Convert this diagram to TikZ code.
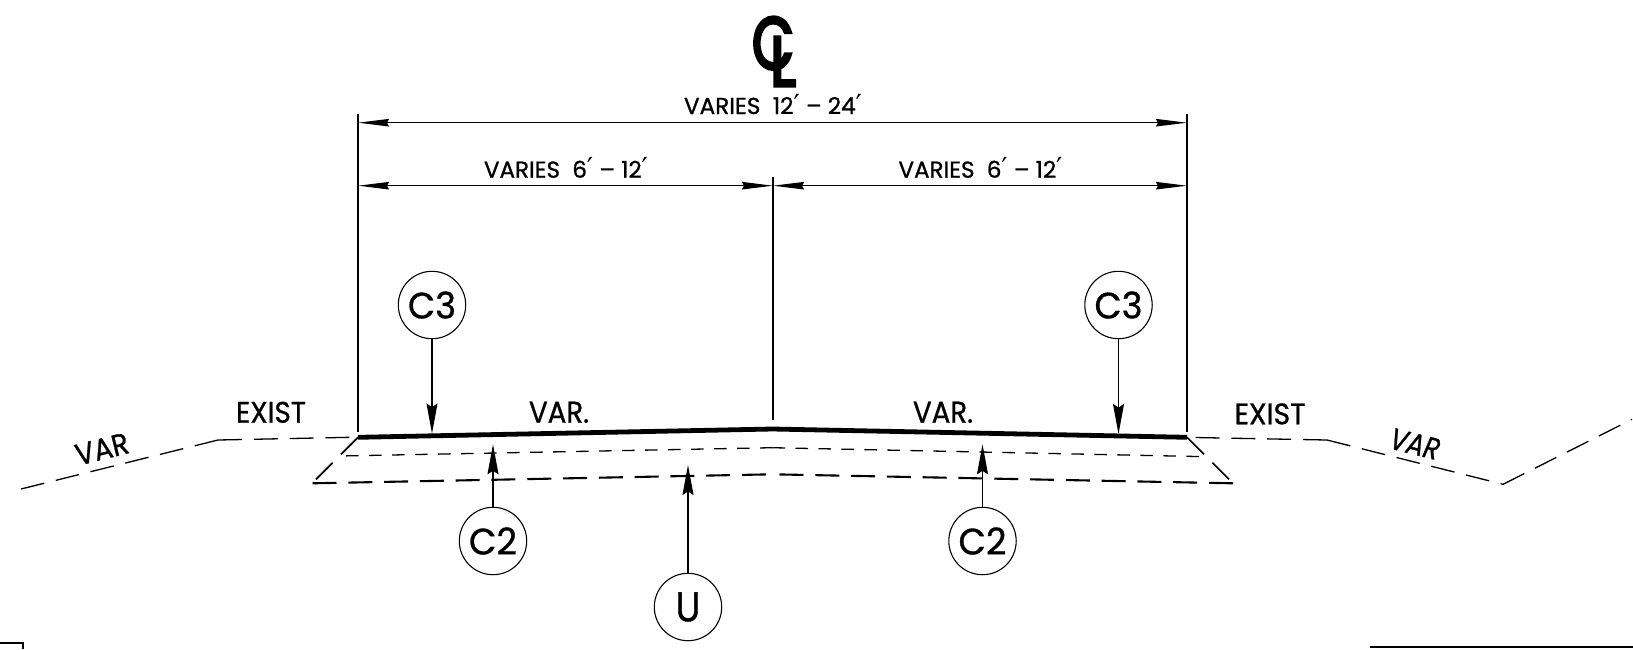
\documentclass[tikz,border=0pt]{standalone}
\usepackage{fontspec}
\usepackage{graphicx}
\setmainfont[FakeBold=0.9]{Poppins}
\newfontfamily\clfont[FakeBold=4.5]{Poppins}
\newfontfamily\primefont{DejaVu Sans}
\newcommand{\prm}{\smash{\primefont\large ′}}
\usetikzlibrary{arrows.meta}
\newcommand{\fitlbl}[3]{\resizebox{#1pt}{#2pt}{#3}}
\tikzset{
  lbl/.style={inner sep=0pt,outer sep=0pt,anchor=base},
  callout/.style={circle,draw,line width=1.1pt,minimum size=67.4pt,inner sep=0pt,outer sep=0pt},
  thinline/.style={line width=1.3pt},
  leader/.style={line width=1.3pt,-{Stealth[length=30pt,width=11pt,inset=3.5pt]}},
  dimline/.style={line width=1.3pt,{Stealth[length=31pt,width=7.5pt,inset=2pt]}-{Stealth[length=31pt,width=7.5pt,inset=2pt]}},
  pave/.style={line width=4.8pt,line join=round},
  groundline/.style={line width=1.3pt,dash pattern=on 24pt off 11.8pt},
  uppercourse/.style={line width=1.3pt,dash pattern=on 12.5pt off 10.5pt},
  lowercourse/.style={line width=2.1pt,dash pattern=on 24pt off 11.8pt},
  sideslope/.style={line width=1.7pt,dash pattern=on 24pt off 12pt}
}
\begin{document}
\begin{tikzpicture}[x=1pt,y=-1pt]
\useasboundingbox (0,0) rectangle (1633,649);
% key points
\coordinate (extLtop) at (358,114);
\coordinate (extLbot) at (358,432);
\coordinate (extRtop) at (1187,114);
\coordinate (extRbot) at (1187,432);
\coordinate (extCtop) at (773,177);
\coordinate (extCbot) at (773,420);
\coordinate (dimAL) at (358,122.7);
\coordinate (dimAR) at (1187,122.7);
\coordinate (dimBL) at (358,185.7);
\coordinate (dimBC) at (773,185.7);
\coordinate (dimBR) at (1187,185.7);
\coordinate (paveL) at (358,437.3);
\coordinate (paveC) at (772.5,429);
\coordinate (paveR) at (1187,437.3);
% extension lines
\draw[thinline] (extLtop) -- (extLbot);
\draw[thinline] (extRtop) -- (extRbot);
\draw[thinline] (extCtop) -- (extCbot);
% dimensions
\draw[dimline] (dimAL) -- (dimAR);
\draw[dimline] (dimBL) -- (dimBC);
\draw[dimline] (dimBC) -- (dimBR);
% surface
\draw[pave] (paveL) -- (paveC) -- (paveR);
% ground
\coordinate (gl0) at (21,489);
\coordinate (gl1) at (218,440);
\coordinate (gl2) at (350,437.3);
\coordinate (gr0) at (1195,437.5);
\coordinate (gr1) at (1327,440);
\coordinate (gr2) at (1503,484.3);
\coordinate (gr3) at (1632,419.3);
\draw[groundline] (gl1) -- (gl0);
\draw[groundline] (gl1) -- (gl2);
\draw[groundline] (gr1) -- (gr0);
\draw[groundline] (gr1) -- (gr2);
\draw[groundline] (gr2) -- (gr3);
% courses
\coordinate (ucL) at (339,456);
\coordinate (ucC) at (772.5,447.7);
\coordinate (ucR) at (1207,456.7);
\coordinate (lcL) at (312.5,483.3);
\coordinate (lcC) at (772.5,474.3);
\coordinate (lcR) at (1233,483.3);
\coordinate (ssL) at (316,479.3);
\coordinate (ssR) at (1229,479.3);
\draw[uppercourse] (ucC) -- (ucL);
\draw[uppercourse] (ucC) -- (ucR);
\draw[lowercourse] (lcL) -- (lcC);
\draw[lowercourse] (lcR) -- (lcC);
\draw[sideslope] (paveL) -- (ssL);
\draw[sideslope] (paveR) -- (ssR);
% callouts
\node[callout] (c3l) at (432,305) {\fitlbl{48}{27}{C3}};
\node[callout] (c3r) at (1118.5,305) {\fitlbl{48}{27}{C3}};
\node[callout] (c2l) at (493,541) {\fitlbl{48}{27}{C2}};
\node[callout] (c2r) at (982.5,541) {\fitlbl{48}{27}{C2}};
\node[callout] (u) at (688,607) {\fitlbl{25}{29}{U}};
\coordinate (t3l) at (432,433.5);
\coordinate (t3r) at (1118.5,434);
\coordinate (t2l) at (493,444.3);
\coordinate (t2r) at (982.5,444.3);
\coordinate (tu) at (688,465);
\draw[leader] (c3l) -- (t3l);
\draw[leader] (c3r) -- (t3r);
\draw[leader] (c2l) -- (t2l);
\draw[leader] (c2r) -- (t2r);
\draw[leader] (u) -- (tu);
% labels
\node[lbl] (clC) at (773,69) {\fitlbl{42}{52}{\clfont C}};
\node[lbl] (clL) at (783,86) {\fitlbl{26}{49}{\clfont L}};
\node[lbl] (dimA) at (773,114) {\fitlbl{178}{17}{VARIES\ \ 12\prm{} – 24\prm}};
\node[lbl] (dimB) at (566,177.7) {\fitlbl{164}{17}{VARIES\ \ 6\prm{} – 12\prm}};
\node[lbl] (dimC) at (980.5,177.7) {\fitlbl{164}{17}{VARIES\ \ 6\prm{} – 12\prm}};
\node[lbl] (ex1) at (271,422.7) {\fitlbl{70}{21}{EXIST}};
\node[lbl] (ex2) at (1270,424.3) {\fitlbl{71}{21}{EXIST}};
\node[lbl] (v1) at (559,422.7) {\fitlbl{60}{21}{VAR.}};
\node[lbl] (v2) at (943,422.7) {\fitlbl{60}{21}{VAR.}};
\node[inner sep=0pt,rotate=14] (v3) at (102,449) {\fitlbl{54}{21}{VAR}};
\node[inner sep=0pt,rotate=-14] (v4) at (1415,444) {\fitlbl{50}{21}{\itshape VAR}};
% sheet fragments
\coordinate (ba) at (0,643);
\coordinate (bb) at (23,643);
\coordinate (bc) at (23,649);
\coordinate (bd) at (1370,647);
\coordinate (be) at (1633,647);
\draw[line width=1.5pt] (ba) -- (bb) -- (bc);
\draw[line width=1.5pt] (bd) -- (be);
\end{tikzpicture}
\end{document}
